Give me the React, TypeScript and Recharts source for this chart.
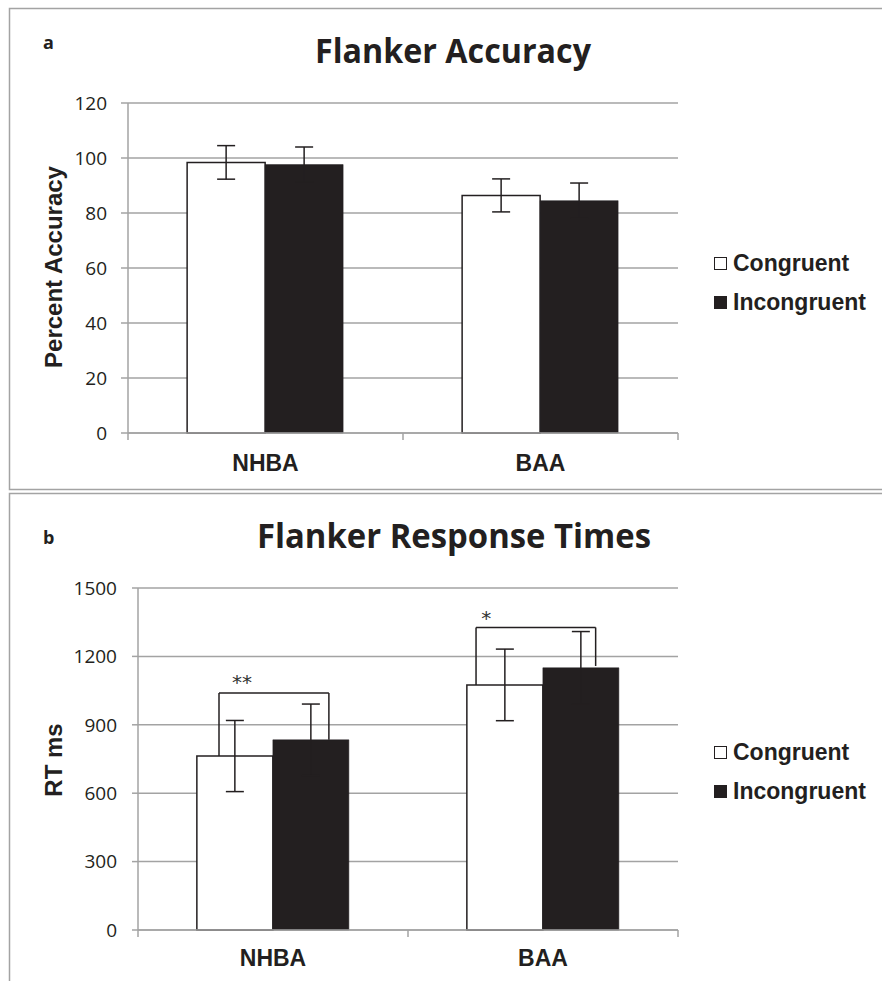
import React from "react";
import {
  BarChart,
  Bar,
  XAxis,
  YAxis,
  CartesianGrid,
  ErrorBar,
  Legend,
  ReferenceLine,
  ReferenceDot,
} from "recharts";

const categories = ["NHBA", "BAA"];
const seriesNames = ["Congruent", "Incongruent"];

const accCongruent = [98.4, 86.4];
const accCongruentErr = [6.1, 6.0];
const accIncongruent = [97.6, 84.5];
const accIncongruentErr = [6.4, 6.4];
const accTicks = [0, 20, 40, 60, 80, 100, 120];

const rtCongruent = [763, 1075];
const rtCongruentErr = [156, 157];
const rtIncongruent = [834, 1150];
const rtIncongruentErr = [157, 159];
const rtTicks = [0, 300, 600, 900, 1200, 1500];

// significance brackets (x in category units: 0..2, y in ms)
const bracketLeftX = [0.3, 1.252];
const bracketRightX = [0.707, 1.695];
const bracketTopY = [1040, 1327];
const bracketLeftBottomY = [763, 1075];
const bracketRightBottomY = [834, 1158];
const starLabels = ["**", "*"];
const starX = [0.385, 1.29];
const starY = [1090, 1368];

const accData = categories.map((c, i) => ({
  name: c,
  con: accCongruent[i],
  conErr: accCongruentErr[i],
  inc: accIncongruent[i],
  incErr: accIncongruentErr[i],
}));
const rtData = categories.map((c, i) => ({
  name: c,
  pos: i + 0.5,
  con: rtCongruent[i],
  conErr: rtCongruentErr[i],
  inc: rtIncongruent[i],
  incErr: rtIncongruentErr[i],
}));

const INK = "#231f20";
const GRID = "#a3a3a3";
const NUM_FONT = "'Open Sans', sans-serif";
const BOLD_FONT = "'Liberation Sans', Arial, sans-serif";

const makeXTick = (band: number, dy: number) => (props: any) => {
  const { x, y, payload, index } = props;
  return (
    <g>
      {index === 0 && (
        <line x1={x - band / 2} x2={x - band / 2} y1={y} y2={y + 7} stroke={GRID} strokeWidth={1.5} />
      )}
      <line x1={x + band / 2} x2={x + band / 2} y1={y} y2={y + 7} stroke={GRID} strokeWidth={1.5} />
      <text
        x={x}
        y={y + dy}
        textAnchor="middle"
        fontFamily={BOLD_FONT}
        fontWeight="bold"
        fontSize={23}
        fill={INK}
      >
        {payload.value}
      </text>
    </g>
  );
};

const LegendContent = (props: any) => {
  const payload = props.payload || [];
  return (
    <div style={{ fontFamily: BOLD_FONT, fontWeight: "bold", fontSize: 23, color: INK, lineHeight: 1 }}>
      {payload.map((entry: any, i: number) => (
        <div key={i} style={{ display: "flex", alignItems: "center", height: 39 }}>
          <span
            style={{
              display: "inline-block",
              boxSizing: "border-box",
              width: 13,
              height: 13,
              border: `1.5px solid ${INK}`,
              background: i === 0 ? "#fff" : INK,
              marginRight: 6,
            }}
          />
          <span>{entry.value}</span>
        </div>
      ))}
    </div>
  );
};

const yTickStyle = { fontFamily: NUM_FONT, fontSize: 19, fill: INK };

export default function App() {
  return (
    <div
      style={{
        position: "absolute",
        left: 0,
        top: 0,
        width: 882,
        height: 981,
        overflow: "hidden",
        background: "#fff",
      }}
    >
      <svg
        width={882}
        height={981}
        style={{ position: "absolute", left: 0, top: 0 }}
      >
        <rect x={9.5} y={8.5} width={900} height={481} fill="none" stroke={GRID} strokeWidth={1.5} />
        <rect x={9.5} y={493.5} width={900} height={520} fill="none" stroke={GRID} strokeWidth={1.5} />
        <text x={43} y={49} fontFamily="'Open Sans', sans-serif" fontWeight="bold" fontSize={18} fill={INK}>
          a
        </text>
        <text
          x={315}
          y={63}
          fontFamily="'Open Sans', sans-serif"
          fontWeight="bold"
          fontSize={34}
          fill={INK}
          textLength={276}
          lengthAdjust="spacingAndGlyphs"
        >
          Flanker Accuracy
        </text>
        <text x={43} y={544} fontFamily="'Open Sans', sans-serif" fontWeight="bold" fontSize={18} fill={INK}>
          b
        </text>
        <text
          x={257}
          y={548}
          fontFamily="'Open Sans', sans-serif"
          fontWeight="bold"
          fontSize={34}
          fill={INK}
          textLength={394}
          lengthAdjust="spacingAndGlyphs"
        >
          Flanker Response Times
        </text>
        <text
          transform="translate(62,267) rotate(-90)"
          textAnchor="middle"
          fontFamily={BOLD_FONT}
          fontWeight="bold"
          fontSize={24}
          fill={INK}
        >
          Percent Accuracy
        </text>
        <text
          transform="translate(62,760) rotate(-90)"
          textAnchor="middle"
          fontFamily={BOLD_FONT}
          fontWeight="bold"
          fontSize={24}
          fill={INK}
        >
          RT ms
        </text>
      </svg>

      <div style={{ position: "absolute", left: 0, top: 0 }}>
        <BarChart
          width={882}
          height={490}
          data={accData}
          margin={{ top: 103, right: 204, left: 68, bottom: 17 }}
          barCategoryGap="21.5%"
          barGap={0}
        >
          <CartesianGrid vertical={false} stroke={GRID} strokeWidth={1.5} />
          <XAxis
            dataKey="name"
            height={40}
            stroke={GRID}
            strokeWidth={1.5}
            tickLine={false}
            tickSize={0}
            tickMargin={0}
            tick={makeXTick(275, 38)}
          />
          <YAxis
            width={60}
            domain={[0, 120]}
            ticks={accTicks}
            stroke={GRID}
            strokeWidth={1.5}
            tickSize={7}
            tickMargin={14}
            tick={yTickStyle}
            interval={0}
          />
          <Legend
            layout="vertical"
            align="center"
            verticalAlign="middle"
            wrapperStyle={{ left: 714, top: 244, width: 168 }}
            content={<LegendContent />}
          />
          <Bar dataKey="con" name={seriesNames[0]} fill="#ffffff" stroke={INK} strokeWidth={1.5} isAnimationActive={false}>
            <ErrorBar dataKey="conErr" width={9} stroke={INK} strokeWidth={1.5} />
          </Bar>
          <Bar dataKey="inc" name={seriesNames[1]} fill={INK} stroke={INK} strokeWidth={0.5} isAnimationActive={false}>
            <ErrorBar dataKey="incErr" width={9} stroke={INK} strokeWidth={1.5} />
          </Bar>
        </BarChart>
      </div>

      <div style={{ position: "absolute", left: 0, top: 490 }}>
        <BarChart
          width={882}
          height={491}
          data={rtData}
          margin={{ top: 98, right: 204, left: 78, bottom: 11 }}
          barCategoryGap="21.8%"
          barGap={0}
        >
          <CartesianGrid vertical={false} stroke={GRID} strokeWidth={1.5} />
          <XAxis
            dataKey="name"
            height={40}
            stroke={GRID}
            strokeWidth={1.5}
            tickLine={false}
            tickSize={0}
            tickMargin={0}
            tick={makeXTick(270, 36)}
          />
          <XAxis
            xAxisId="n"
            dataKey="pos"
            type="number"
            domain={[0, categories.length]}
            allowDataOverflow
            hide
          />
          <YAxis
            width={60}
            domain={[0, 1500]}
            ticks={rtTicks}
            stroke={GRID}
            strokeWidth={1.5}
            tickSize={6}
            tickMargin={15}
            tick={yTickStyle}
            interval={0}
          />
          <Legend
            layout="vertical"
            align="center"
            verticalAlign="middle"
            wrapperStyle={{ left: 714, top: 243, width: 168 }}
            content={<LegendContent />}
          />
          <Bar dataKey="con" name={seriesNames[0]} fill="#ffffff" stroke={INK} strokeWidth={1.5} isAnimationActive={false}>
            <ErrorBar dataKey="conErr" width={9} stroke={INK} strokeWidth={1.5} />
          </Bar>
          <Bar dataKey="inc" name={seriesNames[1]} fill={INK} stroke={INK} strokeWidth={0.5} isAnimationActive={false}>
            <ErrorBar dataKey="incErr" width={9} stroke={INK} strokeWidth={1.5} />
          </Bar>
          {categories.map((c, i) => (
            <ReferenceLine
              key={"l" + c}
              xAxisId="n"
              segment={[
                { x: bracketLeftX[i], y: bracketLeftBottomY[i] },
                { x: bracketLeftX[i], y: bracketTopY[i] },
              ]}
              stroke={INK}
              strokeWidth={1.5}
              ifOverflow="visible"
            />
          ))}
          {categories.map((c, i) => (
            <ReferenceLine
              key={"t" + c}
              xAxisId="n"
              segment={[
                { x: bracketLeftX[i], y: bracketTopY[i] },
                { x: bracketRightX[i], y: bracketTopY[i] },
              ]}
              stroke={INK}
              strokeWidth={1.5}
              ifOverflow="visible"
            />
          ))}
          {categories.map((c, i) => (
            <ReferenceLine
              key={"r" + c}
              xAxisId="n"
              segment={[
                { x: bracketRightX[i], y: bracketRightBottomY[i] },
                { x: bracketRightX[i], y: bracketTopY[i] },
              ]}
              stroke={INK}
              strokeWidth={1.5}
              ifOverflow="visible"
            />
          ))}
          {categories.map((c, i) => (
            <ReferenceDot
              key={"s" + c}
              xAxisId="n"
              x={starX[i]}
              y={starY[i]}
              r={0}
              fill="none"
              stroke="none"
              ifOverflow="visible"
              label={{
                value: starLabels[i],
                position: "center",
                fontFamily: "'DejaVu Sans', sans-serif",
                fontSize: 20,
                fill: "#333",
              }}
            />
          ))}
        </BarChart>
      </div>
    </div>
  );
}
